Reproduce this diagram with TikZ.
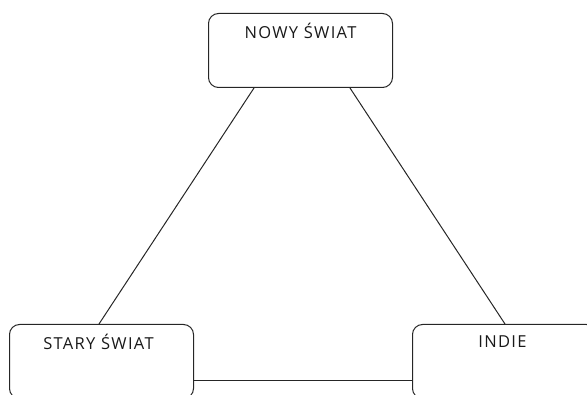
\documentclass[tikz,border=0pt]{standalone}
\usepackage{fontspec}
\setmainfont{Open Sans}[LetterSpace=8]
\begin{document}
\begin{tikzpicture}[x=1pt,y=-1pt,
  box/.style={draw=black!85,line width=1pt,rounded corners=10pt,minimum width=184pt,minimum height=74pt,anchor=north west,inner sep=0pt},
  lbl/.style={font=\fontsize{16.5pt}{18pt}\selectfont,text=black!90,inner sep=0pt},
  conn/.style={draw=black!85,line width=1pt}]
\useasboundingbox (0,0) rectangle (587,395);
\clip (0,0) rectangle (587,395);
\node[box] (nw) at (208,13) {};
\node[box] (sw) at (9,324) {};
\node[box] (se) at (412,324) {};
\node[lbl] (tnw) at ([yshift=-17.5pt]nw.north) {NOWY ŚWIAT};
\node[lbl] (tsw) at ([yshift=-18pt,xshift=-3pt]sw.north) {STARY ŚWIAT};
\node[lbl] (tse) at ([yshift=-18pt,xshift=-2pt]se.north) {INDIE};
\draw[conn] ([xshift=46pt]nw.south west) -- ([xshift=90pt]sw.north west);
\draw[conn] ([xshift=142pt]nw.south west) -- ([xshift=93pt]se.north west);
\draw[conn] ([yshift=-57pt]sw.north east) -- ([yshift=-57pt]se.north west);
\end{tikzpicture}
\end{document}
